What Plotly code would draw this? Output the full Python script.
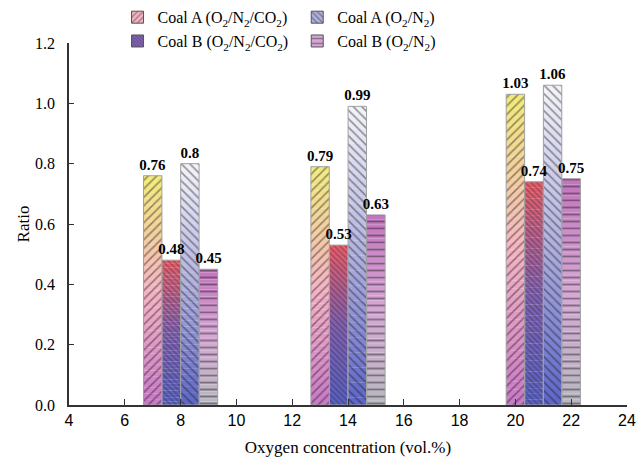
import plotly.graph_objects as go

# ---- data ----
oxygen = [8, 14, 21]
coalA_co2 = [0.76, 0.79, 1.03]
coalB_co2 = [0.48, 0.53, 0.74]
coalA_n2 = [0.80, 0.99, 1.06]
coalB_n2 = [0.45, 0.63, 0.75]
labels_A_co2 = ["0.76", "0.79", "1.03"]
labels_B_co2 = ["0.48", "0.53", "0.74"]
labels_A_n2 = ["0.8", "0.99", "1.06"]
labels_B_n2 = ["0.45", "0.63", "0.75"]
names = ["Coal A (O<sub>2</sub>/N<sub>2</sub>/CO<sub>2</sub>)",
         "Coal B (O<sub>2</sub>/N<sub>2</sub>/CO<sub>2</sub>)",
         "Coal A (O<sub>2</sub>/N<sub>2</sub>)",
         "Coal B (O<sub>2</sub>/N<sub>2</sub>)"]

# ---- styles ----
SERIF = "Times New Roman, Liberation Serif, serif"
SANS = "Arial, Liberation Sans, sans-serif"
BAR_W = 0.66
offsets = [-1.0, -0.333, 0.333, 1.0]
# gradients: (bottom, middle, top)
grads = [
    [(200, 120, 200), (245, 180, 195), (242, 236, 120)],
    [(88, 96, 192), (128, 96, 176), (232, 92, 104)],
    [(92, 100, 200), (176, 176, 224), (244, 244, 250)],
    [(184, 184, 192), (214, 168, 214), (196, 116, 190)],
]
patterns = [dict(shape="/", size=6), dict(shape="\\", size=4),
            dict(shape="\\", size=6), dict(shape="-", size=7)]
legend_ids = ["legend", "legend", "legend2", "legend2"]

def lerp(c1, c2, t):
    return tuple(int(round(a + (b - a) * t)) for a, b in zip(c1, c2))

def grad_color(g, t):
    if t < 0.5:
        c = lerp(g[0], g[1], t / 0.5)
    else:
        c = lerp(g[1], g[2], (t - 0.5) / 0.5)
    return "rgb(%d,%d,%d)" % c

series = [coalA_co2, coalB_co2, coalA_n2, coalB_n2]
texts = [labels_A_co2, labels_B_co2, labels_A_n2, labels_B_n2]

N = 40
fig = go.Figure()
for i, vals in enumerate(series):
    xs, bases, ys, cols = [], [], [], []
    for x, v in zip(oxygen, vals):
        for k in range(N):
            xs.append(x)
            bases.append(v * k / N)
            ys.append(v / N * 1.02 if k < N - 1 else v / N)
            cols.append(grad_color(grads[i], (k + 0.5) / N))
    fig.add_trace(go.Bar(x=xs, y=ys, base=bases, width=BAR_W,
                         offset=offsets[i] - BAR_W / 2,
                         marker=dict(color=cols, line=dict(width=0)),
                         showlegend=False, hoverinfo="skip"))
    fig.add_trace(go.Bar(x=oxygen, y=vals, width=BAR_W,
                         offset=offsets[i] - BAR_W / 2,
                         marker=dict(color="rgba(0,0,0,0)",
                                     line=dict(color="#a0a0a0", width=1),
                                     pattern=dict(shape=patterns[i]["shape"],
                                                  size=patterns[i]["size"],
                                                  solidity=0.27,
                                                  fgcolor="rgba(30,30,30,0.9)",
                                                  bgcolor="rgba(0,0,0,0)")),
                         showlegend=False, name=names[i], hoverinfo="skip"))

# value labels drawn last so they sit on top of all bars
for i, vals in enumerate(series):
    fig.add_trace(go.Bar(x=oxygen, y=vals, width=BAR_W,
                         offset=offsets[i] - BAR_W / 2,
                         marker=dict(color="rgba(0,0,0,0)", line=dict(width=0)),
                         text=texts[i], textposition="outside",
                         constraintext="none",
                         textfont=dict(family=SERIF, size=15, color="black"),
                         texttemplate="<b>%{text}</b>",
                         cliponaxis=False, showlegend=False, name=names[i]))

# legend entries
for i in [0, 1, 2, 3]:
    fig.add_trace(go.Bar(x=[None], y=[None], name=names[i], legend=legend_ids[i],
                         marker=dict(color=grad_color(grads[i], 0.5),
                                     line=dict(color="#555555", width=1),
                                     pattern=dict(shape=patterns[i]["shape"],
                                                  size=patterns[i]["size"] - 1,
                                                  solidity=0.3,
                                                  fgcolor="rgba(30,30,30,0.85)"))))

axis_col = "#333333"
fig.update_layout(
    width=640, height=464,
    margin=dict(l=69, r=13, t=43, b=59, autoexpand=False),
    barmode="overlay",
    plot_bgcolor="white", paper_bgcolor="white",
    font=dict(family=SERIF, size=16, color="black"),
    legend=dict(x=0.087, y=1.118, xanchor="left", yanchor="top",
                orientation="v", font=dict(family=SERIF, size=16),
                bgcolor="rgba(0,0,0,0)", tracegroupgap=0),
    legend2=dict(x=0.409, y=1.118, xanchor="left", yanchor="top",
                 orientation="v", font=dict(family=SERIF, size=16),
                 bgcolor="rgba(0,0,0,0)", tracegroupgap=0),
    xaxis=dict(range=[4, 24], dtick=2, tick0=4, showgrid=False, zeroline=False,
               showline=True, linecolor=axis_col, linewidth=1.5,
               ticks="inside", ticklen=6, tickcolor=axis_col, tickwidth=1.2,
               tickfont=dict(family=SANS, size=16),
               title=dict(text="Oxygen concentration (vol.%)",
                          font=dict(family=SERIF, size=17), standoff=13)),
    yaxis=dict(range=[0, 1.2], dtick=0.2, tickformat=".1f", showgrid=False,
               zeroline=False, showline=True, linecolor=axis_col, linewidth=1.5,
               ticks="inside", ticklen=5, tickcolor=axis_col, tickwidth=1.2,
               ticklabelstandoff=9,
               tickfont=dict(family=SERIF, size=16),
               title=dict(text="Ratio", font=dict(family=SERIF, size=17),
                          standoff=1)),
)

fig.write_html("out.html", config={"displayModeBar": False},
               post_script="document.body.style.margin='0';document.body.style.overflow='hidden';")
